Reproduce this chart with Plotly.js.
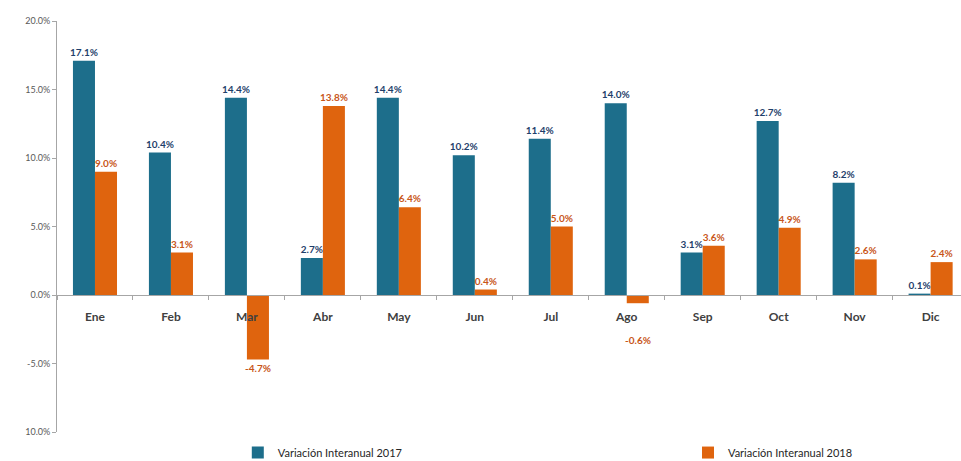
<!DOCTYPE html>
<html>
<head>
<meta charset="utf-8">
<script src="https://cdn.plot.ly/plotly-3.0.1.min.js"></script>
<style>html,body{margin:0;padding:0;background:#fff;}#chart{width:961px;height:461px;}</style>
</head>
<body>
<div id="chart"></div>
<script>
const months = ["Ene","Feb","Mar","Abr","May","Jun","Jul","Ago","Sep","Oct","Nov","Dic"];
const var2017 = [17.1,10.4,14.4,2.7,14.4,10.2,11.4,14.0,3.1,12.7,8.2,0.1];
const var2018 = [9.0,3.1,-4.7,13.8,6.4,0.4,5.0,-0.6,3.6,4.9,2.6,2.4];
const yTickVals = [20,15,10,5,0,-5,-10];
const yTickText = ["20.0%","15.0%","10.0%","5.0%","0.0%","-5.0%","10.0%"];
const seriesNames = ["Variación Interanual 2017","Variación Interanual 2018"];

const fontFam = "Lato, 'Open Sans', sans-serif";
const lbl = v => v.toFixed(1) + '%';
// small negative bar whose label sits below the category label
const lowIdx = var2018.map((v,i)=> (v<0 && v>-2) ? i : -1).filter(i=>i>=0);
const pos2018 = var2018.map((v,i)=> lowIdx.includes(i) ? 'none' : 'outside');

const traces = [
  {type:'bar', x:months, y:var2017, name:seriesNames[0],
   marker:{color:'#1d6e8b'},
   texttemplate:'%{y:.1f}%', textposition:'outside', cliponaxis:false, textangle:0, constraintext:'none',
   textfont:{family:fontFam, size:10, color:'#1f3f6b', weight:'bold'}},
  {type:'bar', x:months, y:var2018, name:seriesNames[1], legend:'legend2',
   marker:{color:'#df640e'},
   texttemplate:'%{y:.1f}%', textposition:pos2018, cliponaxis:false, textangle:0, constraintext:'none',
   textfont:{family:fontFam, size:10, color:'#c8561a', weight:'bold'}}
];
const annotations = lowIdx.map(i => ({
  x: months[i], y: var2018[i], xref:'x', yref:'y', xshift:11, yshift:-29,
  yanchor:'top', text: lbl(var2018[i]), showarrow:false,
  font:{family:fontFam, size:10, color:'#c8561a', weight:'bold'}
}));
const legFont = {family:fontFam, size:11, color:'#262626'};
const layout = {
  width:961, height:461,
  margin:{l:57, r:0, t:21, b:29, autoexpand:false},
  paper_bgcolor:'#fff', plot_bgcolor:'#fff',
  barmode:'group', bargap:0.42, bargroupgap:0,
  showlegend:true,
  legend:{orientation:'h', x:0.2, xanchor:'left', y:-0.05, yanchor:'middle', font:legFont, itemwidth:30},
  legend2:{orientation:'h', x:0.698, xanchor:'left', y:-0.05, yanchor:'middle', font:legFont, itemwidth:30},
  annotations: annotations,
  xaxis:{type:'category', range:[-0.5,11.4], anchor:'free', position:1/3,
    showline:true, linecolor:'#a6a6a6', linewidth:1,
    ticks:'outside', tickson:'boundaries', ticklen:4, tickcolor:'#a6a6a6',
    ticklabelstandoff:11,
    tickfont:{family:fontFam, size:12, color:'#404040', weight:'bold'},
    showgrid:false, zeroline:false},
  yaxis:{range:[-10,20], tickvals:yTickVals, ticktext:yTickText,
    showline:true, linecolor:'#a6a6a6', linewidth:1,
    ticks:'outside', ticklen:4, tickcolor:'#a6a6a6',
    tickfont:{family:fontFam, size:9, color:'#595959'},
    showgrid:false, zeroline:false}
};
Plotly.newPlot('chart', traces, layout, {displayModeBar:false, staticPlot:true});
</script>
</body>
</html>
